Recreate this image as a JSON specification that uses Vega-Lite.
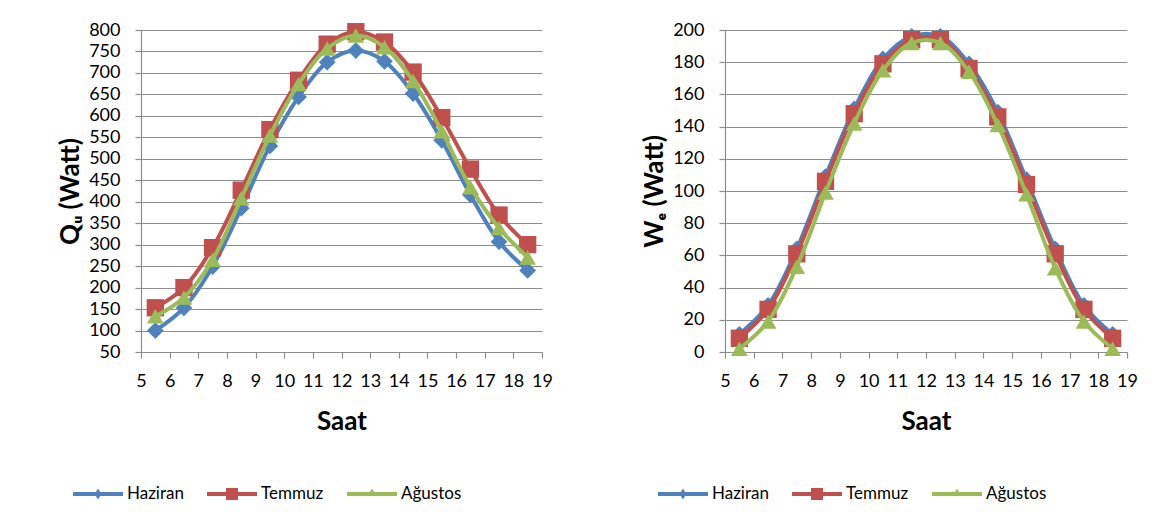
{
  "$schema": "https://vega.github.io/schema/vega-lite/v6.json",
  "background": "white",
  "padding": {"left": 57, "top": 21, "right": 5, "bottom": 5},
  "spacing": 88,
  "config": {
    "font": "Lato",
    "view": {"stroke": null},
    "axis": {
      "labelFont": "Lato", "labelFontSize": 18, "labelColor": "#000000",
      "titleFont": "Lato", "titleFontSize": 26, "titleFontWeight": "bold", "titleColor": "#000000",
      "gridColor": "#8c8c8c", "gridWidth": 1.2, "domainColor": "#8c8c8c", "domainWidth": 1.2,
      "tickColor": "#8c8c8c", "tickSize": 6, "tickWidth": 1.2
    },
    "legend": {"labelFont": "Lato", "labelFontSize": 17, "labelColor": "#000000"}
  },
  "resolve": {"scale": {"color": "independent", "y": "independent"}, "legend": {"color": "independent"}},
  "hconcat": [
    {
      "width": 401, "height": 322,
      "data": {"values": [
        {"saat": 5.5, "ay": "Haziran", "v": 100}, {"saat": 6.5, "ay": "Haziran", "v": 153}, {"saat": 7.5, "ay": "Haziran", "v": 249}, {"saat": 8.5, "ay": "Haziran", "v": 385}, {"saat": 9.5, "ay": "Haziran", "v": 530}, {"saat": 10.5, "ay": "Haziran", "v": 644}, {"saat": 11.5, "ay": "Haziran", "v": 725}, {"saat": 12.5, "ay": "Haziran", "v": 752}, {"saat": 13.5, "ay": "Haziran", "v": 727}, {"saat": 14.5, "ay": "Haziran", "v": 652}, {"saat": 15.5, "ay": "Haziran", "v": 543}, {"saat": 16.5, "ay": "Haziran", "v": 416}, {"saat": 17.5, "ay": "Haziran", "v": 307}, {"saat": 18.5, "ay": "Haziran", "v": 240},
        {"saat": 5.5, "ay": "Temmuz", "v": 153}, {"saat": 6.5, "ay": "Temmuz", "v": 200}, {"saat": 7.5, "ay": "Temmuz", "v": 293}, {"saat": 8.5, "ay": "Temmuz", "v": 427}, {"saat": 9.5, "ay": "Temmuz", "v": 568}, {"saat": 10.5, "ay": "Temmuz", "v": 683}, {"saat": 11.5, "ay": "Temmuz", "v": 767}, {"saat": 12.5, "ay": "Temmuz", "v": 796}, {"saat": 13.5, "ay": "Temmuz", "v": 772}, {"saat": 14.5, "ay": "Temmuz", "v": 702}, {"saat": 15.5, "ay": "Temmuz", "v": 596}, {"saat": 16.5, "ay": "Temmuz", "v": 476}, {"saat": 17.5, "ay": "Temmuz", "v": 369}, {"saat": 18.5, "ay": "Temmuz", "v": 300},
        {"saat": 5.5, "ay": "Ağustos", "v": 133}, {"saat": 6.5, "ay": "Ağustos", "v": 177}, {"saat": 7.5, "ay": "Ağustos", "v": 265}, {"saat": 8.5, "ay": "Ağustos", "v": 408}, {"saat": 9.5, "ay": "Ağustos", "v": 554}, {"saat": 10.5, "ay": "Ağustos", "v": 674}, {"saat": 11.5, "ay": "Ağustos", "v": 757}, {"saat": 12.5, "ay": "Ağustos", "v": 787}, {"saat": 13.5, "ay": "Ağustos", "v": 760}, {"saat": 14.5, "ay": "Ağustos", "v": 681}, {"saat": 15.5, "ay": "Ağustos", "v": 564}, {"saat": 16.5, "ay": "Ağustos", "v": 434}, {"saat": 17.5, "ay": "Ağustos", "v": 339}, {"saat": 18.5, "ay": "Ağustos", "v": 270}
      ]},
      "encoding": {
        "x": {"field": "saat", "type": "quantitative", "scale": {"domain": [5, 19], "nice": false, "zero": false},
              "axis": {"title": "Saat", "values": [5,6,7,8,9,10,11,12,13,14,15,16,17,18,19], "grid": false, "labelPadding": 14, "titlePadding": 18, "labelFlush": false}},
        "y": {"field": "v", "type": "quantitative", "scale": {"domain": [50, 800], "nice": false, "zero": false},
              "axis": {"title": "Qᵤ (Watt)", "values": [50,100,150,200,250,300,350,400,450,500,550,600,650,700,750,800], "labelPadding": 15, "titlePadding": 5}},
        "color": {"field": "ay", "type": "nominal",
                  "scale": {"domain": ["Haziran", "Temmuz", "Ağustos"], "range": ["#4F81BD", "#C0504D", "#9BBB59"]},
                  "legend": {"orient": "none", "legendX": -68, "legendY": 439, "direction": "horizontal", "title": null,
                             "symbolSize": 2500, "labelOffset": 4, "columnPadding": 23, "symbolStrokeWidth": 0,
                             "encode": {"symbols": {"update": {
                               "shape": {"signal": "datum.value === 'Haziran' ? 'M-1,-0.08H1V0.08H-1Z M0,-0.22L0.14,0L0,0.22L-0.14,0Z' : datum.value === 'Temmuz' ? 'M-1,-0.08H1V0.08H-1Z M-0.24,-0.24H0.24V0.24H-0.24Z' : 'M-1,-0.08H1V0.08H-1Z M0,-0.22L0.18,0.08H-0.18Z'"},
                               "fill": {"signal": "datum.value === 'Haziran' ? '#4F81BD' : datum.value === 'Temmuz' ? '#C0504D' : '#9BBB59'"},
                               "stroke": {"value": "transparent"},
                               "opacity": {"value": 1}, "fillOpacity": {"value": 1}}}}}}
      },
      "layer": [
        {"transform": [{"filter": "datum.ay === 'Haziran'"}], "mark": {"type": "line", "interpolate": "catmull-rom", "strokeWidth": 4}},
        {"transform": [{"filter": "datum.ay === 'Haziran'"}], "mark": {"type": "point", "shape": "diamond", "filled": true, "opacity": 1, "size": 280}},
        {"transform": [{"filter": "datum.ay === 'Temmuz'"}], "mark": {"type": "line", "interpolate": "catmull-rom", "strokeWidth": 4}},
        {"transform": [{"filter": "datum.ay === 'Temmuz'"}], "mark": {"type": "point", "shape": "square", "filled": true, "opacity": 1, "size": 300}},
        {"transform": [{"filter": "datum.ay === 'Ağustos'"}], "mark": {"type": "line", "interpolate": "catmull-rom", "strokeWidth": 4}},
        {"transform": [{"filter": "datum.ay === 'Ağustos'"}], "mark": {"type": "point", "shape": "triangle-up", "filled": true, "opacity": 1, "size": 280}}
      ]
    },
    {
      "width": 402, "height": 322,
      "data": {"values": [
        {"saat": 5.5, "ay": "Haziran", "v": 11}, {"saat": 6.5, "ay": "Haziran", "v": 29}, {"saat": 7.5, "ay": "Haziran", "v": 64}, {"saat": 8.5, "ay": "Haziran", "v": 109}, {"saat": 9.5, "ay": "Haziran", "v": 151}, {"saat": 10.5, "ay": "Haziran", "v": 182}, {"saat": 11.5, "ay": "Haziran", "v": 196}, {"saat": 12.5, "ay": "Haziran", "v": 196}, {"saat": 13.5, "ay": "Haziran", "v": 179}, {"saat": 14.5, "ay": "Haziran", "v": 149}, {"saat": 15.5, "ay": "Haziran", "v": 107}, {"saat": 16.5, "ay": "Haziran", "v": 64}, {"saat": 17.5, "ay": "Haziran", "v": 29}, {"saat": 18.5, "ay": "Haziran", "v": 11},
        {"saat": 5.5, "ay": "Temmuz", "v": 8.5}, {"saat": 6.5, "ay": "Temmuz", "v": 26.5}, {"saat": 7.5, "ay": "Temmuz", "v": 61}, {"saat": 8.5, "ay": "Temmuz", "v": 106}, {"saat": 9.5, "ay": "Temmuz", "v": 148}, {"saat": 10.5, "ay": "Temmuz", "v": 179}, {"saat": 11.5, "ay": "Temmuz", "v": 194}, {"saat": 12.5, "ay": "Temmuz", "v": 194}, {"saat": 13.5, "ay": "Temmuz", "v": 176}, {"saat": 14.5, "ay": "Temmuz", "v": 146}, {"saat": 15.5, "ay": "Temmuz", "v": 104}, {"saat": 16.5, "ay": "Temmuz", "v": 61}, {"saat": 17.5, "ay": "Temmuz", "v": 26.5}, {"saat": 18.5, "ay": "Temmuz", "v": 8.5},
        {"saat": 5.5, "ay": "Ağustos", "v": 2}, {"saat": 6.5, "ay": "Ağustos", "v": 19}, {"saat": 7.5, "ay": "Ağustos", "v": 53}, {"saat": 8.5, "ay": "Ağustos", "v": 99}, {"saat": 9.5, "ay": "Ağustos", "v": 142}, {"saat": 10.5, "ay": "Ağustos", "v": 175}, {"saat": 11.5, "ay": "Ağustos", "v": 192}, {"saat": 12.5, "ay": "Ağustos", "v": 192}, {"saat": 13.5, "ay": "Ağustos", "v": 174}, {"saat": 14.5, "ay": "Ağustos", "v": 141}, {"saat": 15.5, "ay": "Ağustos", "v": 98}, {"saat": 16.5, "ay": "Ağustos", "v": 52}, {"saat": 17.5, "ay": "Ağustos", "v": 19}, {"saat": 18.5, "ay": "Ağustos", "v": 2}
      ]},
      "encoding": {
        "x": {"field": "saat", "type": "quantitative", "scale": {"domain": [5, 19], "nice": false, "zero": false},
              "axis": {"title": "Saat", "values": [5,6,7,8,9,10,11,12,13,14,15,16,17,18,19], "grid": false, "labelPadding": 14, "titlePadding": 18, "labelFlush": false}},
        "y": {"field": "v", "type": "quantitative", "scale": {"domain": [0, 200], "nice": false, "zero": false},
              "axis": {"title": "Wₑ (Watt)", "values": [0,20,40,60,80,100,120,140,160,180,200], "labelPadding": 15, "titlePadding": 5}},
        "color": {"field": "ay", "type": "nominal",
                  "scale": {"domain": ["Haziran", "Temmuz", "Ağustos"], "range": ["#4F81BD", "#C0504D", "#9BBB59"]},
                  "legend": {"orient": "none", "legendX": -67, "legendY": 439, "direction": "horizontal", "title": null,
                             "symbolSize": 2500, "labelOffset": 4, "columnPadding": 23, "symbolStrokeWidth": 0,
                             "encode": {"symbols": {"update": {
                               "shape": {"signal": "datum.value === 'Haziran' ? 'M-1,-0.08H1V0.08H-1Z M0,-0.22L0.14,0L0,0.22L-0.14,0Z' : datum.value === 'Temmuz' ? 'M-1,-0.08H1V0.08H-1Z M-0.24,-0.24H0.24V0.24H-0.24Z' : 'M-1,-0.08H1V0.08H-1Z M0,-0.22L0.18,0.08H-0.18Z'"},
                               "fill": {"signal": "datum.value === 'Haziran' ? '#4F81BD' : datum.value === 'Temmuz' ? '#C0504D' : '#9BBB59'"},
                               "stroke": {"value": "transparent"},
                               "opacity": {"value": 1}, "fillOpacity": {"value": 1}}}}}}
      },
      "layer": [
        {"transform": [{"filter": "datum.ay === 'Haziran'"}], "mark": {"type": "line", "interpolate": "catmull-rom", "strokeWidth": 4}},
        {"transform": [{"filter": "datum.ay === 'Haziran'"}], "mark": {"type": "point", "shape": "diamond", "filled": true, "opacity": 1, "size": 280}},
        {"transform": [{"filter": "datum.ay === 'Temmuz'"}], "mark": {"type": "line", "interpolate": "catmull-rom", "strokeWidth": 4}},
        {"transform": [{"filter": "datum.ay === 'Temmuz'"}], "mark": {"type": "point", "shape": "square", "filled": true, "opacity": 1, "size": 300}},
        {"transform": [{"filter": "datum.ay === 'Ağustos'"}], "mark": {"type": "line", "interpolate": "catmull-rom", "strokeWidth": 4}},
        {"transform": [{"filter": "datum.ay === 'Ağustos'"}], "mark": {"type": "point", "shape": "triangle-up", "filled": true, "opacity": 1, "size": 280}}
      ]
    }
  ]
}
